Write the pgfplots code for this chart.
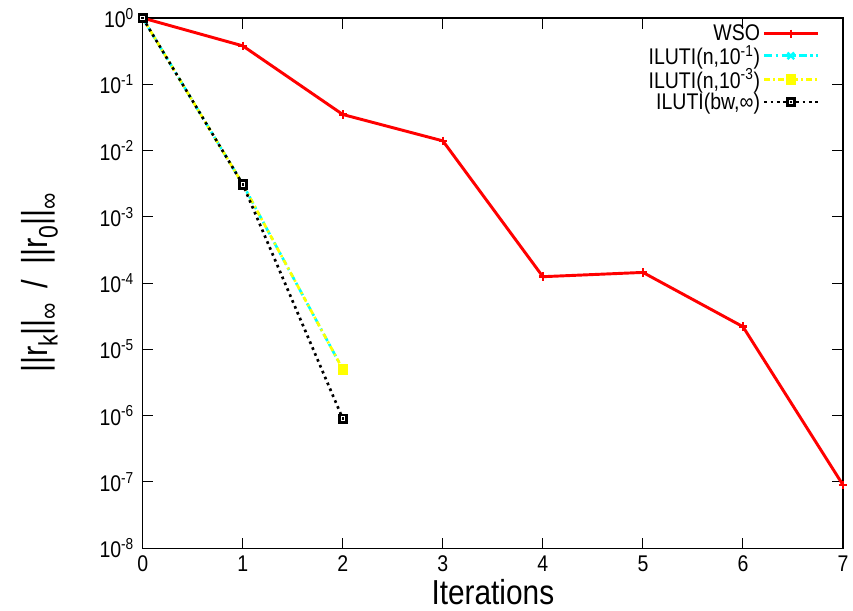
\documentclass[border=0pt]{standalone}
\usepackage{fontspec}
\setmainfont{Liberation Sans}[FakeStretch=0.86]
\usepackage{pgfplots}
\pgfplotsset{compat=1.18}

\definecolor{wsored}{RGB}{255,0,0}
\definecolor{lucyan}{RGB}{0,255,255}
\definecolor{luyellow}{RGB}{255,255,0}

% subscript for the axis label, a little larger than \textsubscript
\newcommand\lsub[1]{\raisebox{-0.28em}{\fontsize{20}{20}\selectfont #1}}

% filled square with a small open square inside
\pgfdeclareplotmark{boxdot}{%
  \pgfpathrectangle{\pgfqpoint{-\pgfplotmarksize}{-\pgfplotmarksize}}{\pgfqpoint{2\pgfplotmarksize}{2\pgfplotmarksize}}%
  \pgfusepathqfillstroke
  \pgfscope
  \pgfsetstrokecolor{white}\pgfsetlinewidth{0.6pt}%
  \pgfpathrectangle{\pgfqpoint{-0.38\pgfplotmarksize}{-0.38\pgfplotmarksize}}{\pgfqpoint{0.76\pgfplotmarksize}{0.76\pgfplotmarksize}}%
  \pgfusepathqstroke
  \endpgfscope
}

\begin{document}
\begin{tikzpicture}
\useasboundingbox (-107pt,-46.5pt) rectangle (532.5pt,411pt);
\begin{axis}[
  at={(0,0)}, anchor=south west,
  scale only axis,
  width=525pt, height=397.5pt,
  ymode=log,
  xmin=0, xmax=7,
  ymin=1e-8, ymax=1,
  xtick={0,1,...,7},
  ytick={1,1e-1,1e-2,1e-3,1e-4,1e-5,1e-6,1e-7,1e-8},
  yticklabels={10\textsuperscript{0},10\textsuperscript{-1},10\textsuperscript{-2},10\textsuperscript{-3},10\textsuperscript{-4},10\textsuperscript{-5},10\textsuperscript{-6},10\textsuperscript{-7},10\textsuperscript{-8}},
  /pgf/number format/assume math mode=true,
  tick label style={font=\fontsize{17}{19}\selectfont},
  xticklabel style={yshift=-2pt},
  yticklabel style={xshift=-3pt},
  tick align=inside,
  major tick length=8pt,
  minor tick length=4pt,
  axis line style={line width=1pt},
  every tick/.style={black, line width=0.8pt},
  every axis x label/.style={at={(axis description cs:0.5,0)}, anchor=center, yshift=-33pt},
  every axis y label/.style={at={(axis description cs:-0.147,0.5)}, anchor=center, rotate=90},
  xlabel={\fontsize{26}{28}\selectfont Iterations},
  ylabel={\fontsize{27}{28}\selectfont ||r\lsub{k}||\lsub{∞} \,/\, ||r\lsub{0}||\lsub{∞}},
  legend cell align=right,
  legend plot pos=right,
  legend style={at={(rel axis cs:0.968,0.995)}, anchor=north east, draw=none, fill=none,
    font=\fontsize{17}{19}\selectfont, row sep=-2.2pt, inner sep=1pt},
  legend image code/.code={%
    \draw[mark repeat=2,mark phase=2] plot coordinates {(0pt,0pt) (20pt,0pt) (40pt,0pt)};},
]
\addplot[wsored, line width=2.2pt, mark=+, mark size=3.2pt, mark options={solid, line width=1.8pt}]
  coordinates {(0,1) (1,0.38) (2,0.035) (3,0.014) (4,1.25e-4) (5,1.45e-4) (6,2.2e-5) (7,9e-8)};
\addlegendentry{WSO}
\addplot[lucyan, line width=2pt, dash pattern=on 6pt off 2.5pt on 2pt off 2.5pt, mark=x, mark size=3.5pt, mark options={solid, line width=1.8pt}]
  coordinates {(0,1) (1,3.1e-3) (2,5.0e-6)};
\addlegendentry{ILUTI(n,10\textsuperscript{-1})}
\addplot[luyellow, line width=2pt, dash pattern=on 4pt off 2.5pt on 1.5pt off 2.5pt, mark=square*, mark size=3.6pt, mark options={solid, fill=luyellow, line width=0.5pt}]
  coordinates {(0,1) (1,3.1e-3) (2,5.0e-6)};
\addlegendentry{ILUTI(n,10\textsuperscript{-3})}
\addplot[black, line width=2pt, dash pattern=on 2pt off 2.8pt, mark=boxdot, mark size=3.6pt, mark options={solid, fill=black, line width=0.5pt}]
  coordinates {(0,1) (1,3.1e-3) (2,9e-7)};
\addlegendentry{ILUTI(bw,∞)}
\end{axis}
\end{tikzpicture}
\end{document}
